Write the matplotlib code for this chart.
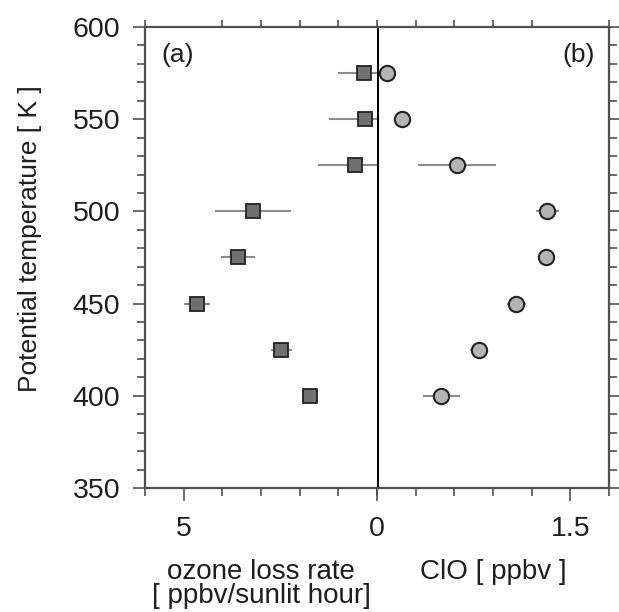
import matplotlib as mpl
mpl.use('Agg')
import matplotlib.pyplot as plt
from matplotlib.ticker import MultipleLocator, NullFormatter
import numpy as np

plt.rcParams['font.family'] = ['Liberation Sans', 'DejaVu Sans']

theta = [400, 425, 450, 475, 500, 525, 550, 575]
ozone = [1.73, 2.48, 4.66, 3.6, 3.2, 0.56, 0.31, 0.34]
ozone_err = [0.15, 0.27, 0.34, 0.44, 0.98, 0.96, 0.92, 0.68]
clo = [0.50, 0.79, 1.08, 1.31, 1.32, 0.62, 0.19, 0.08]
clo_err = [0.14, 0.07, 0.075, 0.05, 0.09, 0.305, 0.05, 0.05]

frame = '#505050'
txt = '#1e1e1e'
fig = plt.figure(figsize=(6.19, 6.12), dpi=100)
ax1 = fig.add_axes([0.2343, 0.2026, 0.3748, 0.7533])
ax2 = fig.add_axes([0.6091, 0.2026, 0.3748, 0.7533], sharey=ax1)
ax2.patch.set_visible(False)

ax1.errorbar(ozone, theta, xerr=ozone_err, fmt='s', ms=10, mfc='#707070',
             mec='#222222', mew=1.3, ecolor='#8c8c8c', elinewidth=1.5, capsize=0, zorder=3)
ax2.errorbar(clo, theta, xerr=clo_err, fmt='o', ms=11, mfc='#b4b4b4',
             mec='#222222', mew=1.5, ecolor='#8c8c8c', elinewidth=1.5, capsize=0, zorder=3)
ax2.axvline(0, color='black', lw=2.2, zorder=2)

ax1.set_xlim(6, 0)
ax2.set_xlim(0, 1.8)
ax1.set_ylim(350, 600)

for ax in (ax1, ax2):
    for s in ax.spines.values():
        s.set_color(frame)
        s.set_linewidth(1.6)
ax1.spines['right'].set_visible(False)
ax2.spines['left'].set_visible(False)

# y axis
ax1.yaxis.set_major_locator(MultipleLocator(50))
ax1.yaxis.set_minor_locator(MultipleLocator(10))
ax1.tick_params(axis='y', which='major', direction='out', length=9, width=1.2,
                color=frame, labelsize=20.5, labelcolor=txt, pad=9)
ax1.tick_params(axis='y', which='minor', direction='out', length=6, width=1.2, color=frame)
ax1.tick_params(axis='y', right=False)
ax2.tick_params(axis='y', which='both', left=False, labelleft=False, right=True,
                direction='out', color=frame, width=1.2)
ax2.tick_params(axis='y', which='major', length=9)
ax2.tick_params(axis='y', which='minor', length=6)

# x axes
ax1.set_xticks([5, 0])
ax1.set_xticklabels(['5', '0'])
ax1.xaxis.set_minor_locator(MultipleLocator(1))
ax2.set_xticks([1.5])
ax2.set_xticklabels(['1.5'])
ax2.xaxis.set_minor_locator(MultipleLocator(0.3))
for ax in (ax1, ax2):
    ax.tick_params(axis='x', which='major', direction='out', length=9, width=1.2,
                   color=frame, labelsize=20.5, labelcolor=txt, pad=11)
    ax.tick_params(axis='x', which='minor', direction='out', length=6, width=1.2, color=frame)
    top = ax.secondary_xaxis('top')
    top.set_xticks(ax.xaxis.get_minorticklocs())
    top.xaxis.set_major_formatter(NullFormatter())
    top.tick_params(direction='out', length=5, width=1.2, color=frame)
    top.spines['top'].set_visible(False)

ax1.set_ylabel('Potential temperature [ K ]', fontsize=19, color=txt)
ax1.yaxis.set_label_coords(-0.446, 0.542)
ax1.set_xlabel('ozone loss rate\n[ ppbv/sunlit hour]', fontsize=20, color=txt,
               linespacing=0.87)
ax2.set_xlabel('ClO [ ppbv ]', fontsize=20, color=txt)
ax1.xaxis.set_label_coords(0.5, -0.155)
ax2.xaxis.set_label_coords(0.5, -0.155)
ax1.xaxis.label.set_va('top')
ax2.xaxis.label.set_va('top')

ax1.text(0.07, 0.94, '(a)', transform=ax1.transAxes, fontsize=19, color=txt, va='center')
ax2.text(0.94, 0.94, '(b)', transform=ax2.transAxes, fontsize=19, color=txt,
         va='center', ha='right')

fig.savefig('out.png', dpi=100)
